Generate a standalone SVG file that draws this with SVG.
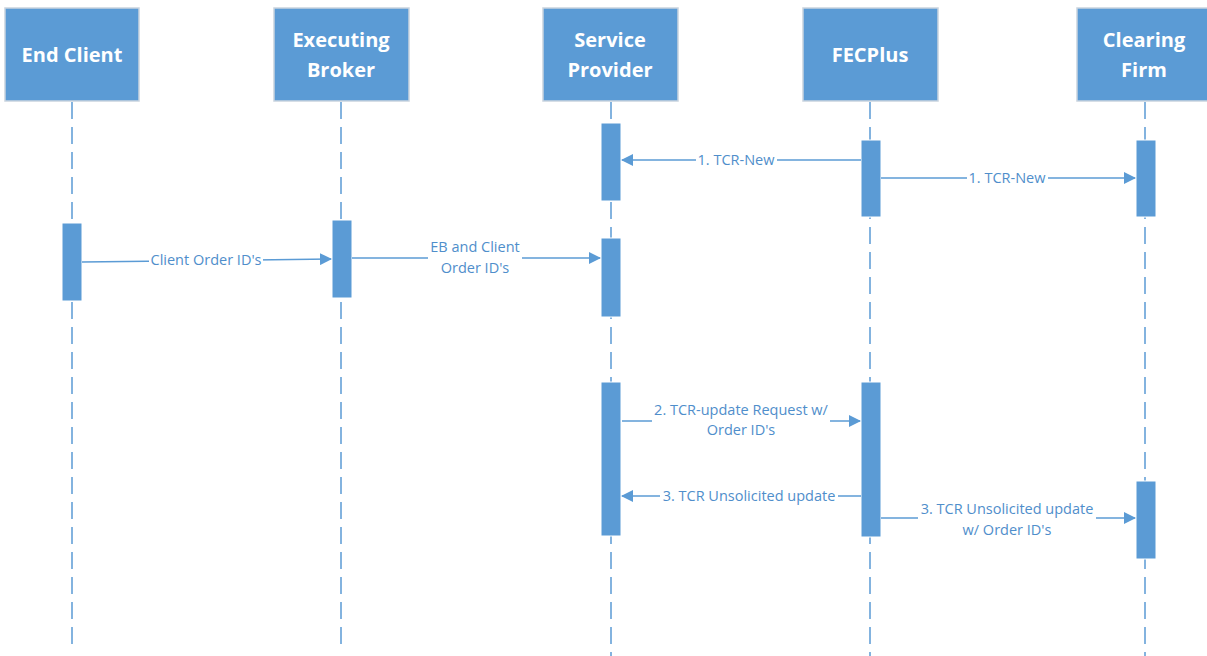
<svg xmlns="http://www.w3.org/2000/svg" width="1207" height="656" viewBox="0 0 1207 656">
<style>
.box{fill:#5b9bd5;stroke:#c9d3de;stroke-width:1.5}
.hd{font-family:"Open Sans","Noto Sans",sans-serif;font-weight:bold;font-size:20px;fill:#ffffff;text-anchor:middle}
.life{stroke:#5b9bd5;stroke-width:1.5;stroke-dasharray:17 8;fill:none}
.act{fill:#5b9bd5;stroke:#ffffff;stroke-width:1}
.msg{stroke:#5b9bd5;stroke-width:1.5;fill:none;marker-end:url(#ah)}
.lbl{font-family:"Open Sans","Noto Sans",sans-serif;font-size:14.5px;fill:#4f8ecb;text-anchor:middle}
.bg{fill:#ffffff}
</style>
<defs>
<marker id="ah" markerWidth="12" markerHeight="12" refX="11" refY="6" orient="auto" markerUnits="userSpaceOnUse">
<path d="M0,0 L12,6 L0,12 Z" fill="#5b9bd5"/>
</marker>
</defs>
<rect width="1207" height="656" fill="#ffffff"/>
<g id="lifelines">
<line class="life" x1="72" y1="102" x2="72" y2="645"/>
<line class="life" x1="341" y1="102" x2="341" y2="645"/>
<line class="life" x1="611" y1="102" x2="611" y2="656"/>
<line class="life" x1="870" y1="102" x2="870" y2="656"/>
<line class="life" x1="1145" y1="102" x2="1145" y2="656"/>
</g>
<g id="end-client">
<rect class="box" x="5" y="8" width="134" height="93"/>
<text class="hd" x="72" y="62">End Client</text>
</g>
<g id="executing-broker">
<rect class="box" x="274" y="8" width="135" height="93"/>
<text class="hd" x="341" y="47">Executing</text>
<text class="hd" x="341" y="77">Broker</text>
</g>
<g id="service-provider">
<rect class="box" x="543" y="8" width="135" height="93"/>
<text class="hd" x="610" y="47">Service</text>
<text class="hd" x="610" y="77">Provider</text>
</g>
<g id="fecplus">
<rect class="box" x="803" y="8" width="135" height="93"/>
<text class="hd" x="870" y="62">FECPlus</text>
</g>
<g id="clearing-firm">
<rect class="box" x="1077" y="8" width="135" height="93"/>
<text class="hd" x="1144" y="47">Clearing</text>
<text class="hd" x="1144" y="77">Firm</text>
</g>
<g id="activations">
<rect class="act" x="601" y="123" width="20" height="78"/>
<rect class="act" x="861" y="140" width="20" height="77"/>
<rect class="act" x="1136" y="140" width="20" height="77"/>
<rect class="act" x="62" y="223" width="20" height="78"/>
<rect class="act" x="332" y="220" width="20" height="78"/>
<rect class="act" x="601" y="238" width="20" height="79"/>
<rect class="act" x="601" y="382" width="20" height="154"/>
<rect class="act" x="861" y="382" width="20" height="155"/>
<rect class="act" x="1136" y="481" width="20" height="78"/>
</g>
<g id="connectors">
<line class="msg" x1="861" y1="160" x2="622" y2="160"/>
<rect class="bg" x="696" y="152" width="81" height="16"/>
<text class="lbl" x="736" y="165">1. TCR-New</text>
<line class="msg" x1="881" y1="178" x2="1135" y2="178"/>
<rect class="bg" x="967" y="170" width="81" height="16"/>
<text class="lbl" x="1007" y="183">1. TCR-New</text>
<line class="msg" x1="82" y1="262" x2="331" y2="259"/>
<rect class="bg" x="149" y="252" width="114" height="16"/>
<text class="lbl" x="206" y="265">Client Order ID's</text>
<line class="msg" x1="352" y1="258" x2="600" y2="258"/>
<rect class="bg" x="428" y="238" width="94" height="38"/>
<text class="lbl" x="475" y="252">EB and Client</text>
<text class="lbl" x="475" y="273">Order ID's</text>
<line class="msg" x1="622" y1="421" x2="860" y2="421"/>
<rect class="bg" x="652" y="400" width="178" height="38"/>
<text class="lbl" x="741" y="415">2. TCR-update Request w/</text>
<text class="lbl" x="741" y="435">Order ID's</text>
<line class="msg" x1="861" y1="496" x2="622" y2="496"/>
<rect class="bg" x="660" y="488" width="178" height="16"/>
<text class="lbl" x="749" y="501">3. TCR Unsolicited update</text>
<line class="msg" x1="881" y1="518" x2="1135" y2="518"/>
<rect class="bg" x="918" y="499" width="178" height="38"/>
<text class="lbl" x="1007" y="514">3. TCR Unsolicited update</text>
<text class="lbl" x="1007" y="535">w/ Order ID's</text>
</g>
</svg>
